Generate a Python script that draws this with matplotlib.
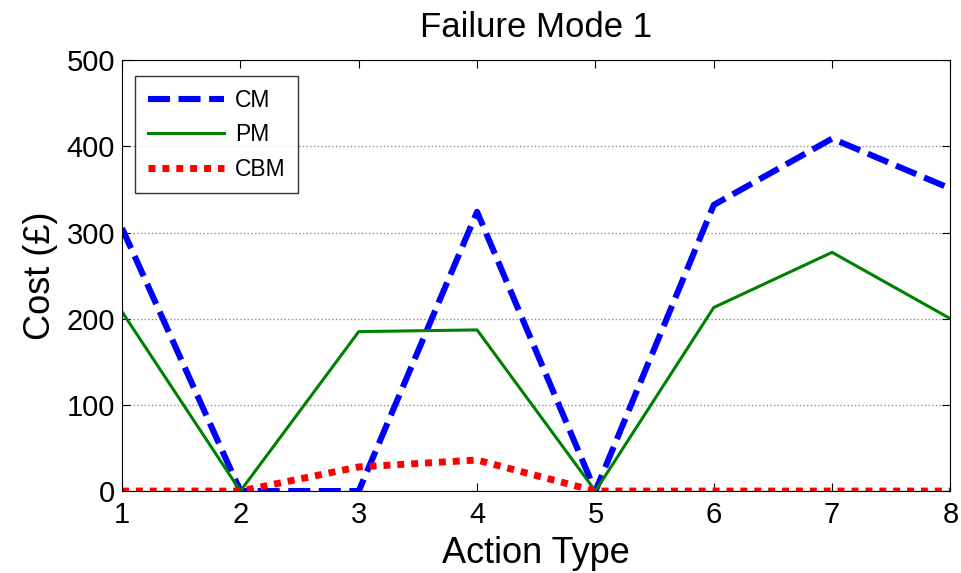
import matplotlib
matplotlib.use("Agg")
import matplotlib.pyplot as plt

# values
action_types = [1, 2, 3, 4, 5, 6, 7, 8]
cm_cost = [305, 0, 0, 324, 0, 332, 409, 351]
pm_cost = [208, 0, 185, 187, 0, 213, 277, 200]
cbm_cost = [0, 0, 28, 36, 0, 0, 0, 0]

x_ticks = [1, 2, 3, 4, 5, 6, 7, 8]
y_ticks = [0, 100, 200, 300, 400, 500]

plt.rcParams["font.family"] = ["Liberation Sans", "DejaVu Sans"]

figure = plt.figure(figsize=(9.61, 5.73), dpi=100)
axis = figure.add_axes([0.127, 0.143, 0.862, 0.752])

axis.plot(action_types, cm_cost, color="#0000ff", linestyle=(0, (3.6, 1.4)),
          linewidth=4.4, label="CM")
axis.plot(action_types, pm_cost, color="#008000", linestyle="-",
          linewidth=2.2, label="PM")
axis.plot(action_types, cbm_cost, color="#ff0000", linestyle=(0, (1, 1)),
          linewidth=5, label="CBM")

axis.set_xlim(1, 8)
axis.set_ylim(0, 500)
axis.set_xticks(x_ticks)
axis.set_yticks(y_ticks)
axis.tick_params(direction="in", length=6, labelsize=21, top=True, right=True)
axis.tick_params(axis="x", pad=7)
axis.tick_params(axis="y", pad=5)

axis.yaxis.grid(True, linestyle=":", color="#909090", linewidth=1.0)
axis.set_axisbelow(True)

axis.set_xlabel("Action Type", fontsize=26, labelpad=5)
axis.set_ylabel("Cost (£)", fontsize=26, labelpad=6)
axis.set_title("Failure Mode 1", fontsize=25, pad=17)

legend = axis.legend(loc="upper left", fontsize=16.5, frameon=True, fancybox=False,
                     edgecolor="black", handlelength=3.3, handletextpad=0.5,
                     borderpad=0.55, labelspacing=0.5, borderaxespad=0,
                     bbox_to_anchor=(0.016, 0.963))
legend.get_frame().set_linewidth(1.0)

figure.savefig("out.png", dpi=100)
